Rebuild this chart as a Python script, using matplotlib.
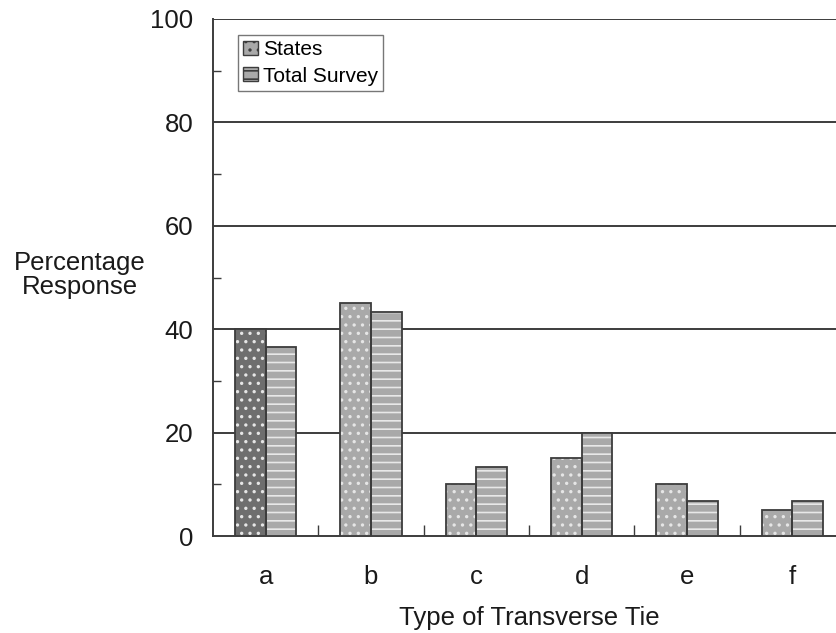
import matplotlib
matplotlib.use("Agg")
import matplotlib.pyplot as plt
from matplotlib.patches import Patch
import numpy as np

categories = ["a", "b", "c", "d", "e", "f"]
states = [40, 45, 10, 15, 10, 5]
total_survey = [36.6, 43.3, 13.3, 20, 6.7, 6.7]
yticks = [0, 20, 40, 60, 80, 100]

plt.rcParams['font.family'] = ['Liberation Sans', 'DejaVu Sans']
plt.rcParams['hatch.linewidth'] = 1.2

W, H = 837, 633
fig = plt.figure(figsize=(W / 100, H / 100), dpi=100)
left, right, top, bottom = 213, 845, 19, 536
ax = fig.add_axes([left / W, 1 - bottom / H, (right - left) / W, (bottom - top) / H])

x = np.arange(len(categories))
bw = 0.29
edge = "#3c3c3c"
light = "#a9a9a9"
dark = "#6e6e6e"
txt = "#1a1a1a"
state_colors = [dark] + [light] * (len(categories) - 1)

# fills with white hatches
ax.bar(x - bw / 2, states, bw, color=state_colors, edgecolor="#e6e6e6", hatch="..", linewidth=0, zorder=3)
ax.bar(x + bw / 2, total_survey, bw, color=light, edgecolor="#e8e8e8", hatch="--", linewidth=0, zorder=3)
# outlines
ax.bar(x - bw / 2, states, bw, fill=False, edgecolor=edge, linewidth=1.3, zorder=4)
ax.bar(x + bw / 2, total_survey, bw, fill=False, edgecolor=edge, linewidth=1.3, zorder=4)

ax.set_xlim(-0.5, 5.5)
ax.set_ylim(0, 100)
ax.set_yticks(yticks)
ax.set_yticks([10, 30, 50, 70, 90], minor=True)
ax.tick_params(axis='y', which='major', length=0, labelsize=18.5, pad=14, colors=txt)
ax.tick_params(axis='y', which='minor', direction='in', length=6, width=1, color=edge)
ax.set_xticks(x)
ax.set_xticklabels(categories)
ax.tick_params(axis='x', which='major', length=0, labelsize=18.5, pad=21, colors=txt)
ax.set_xticks(np.arange(len(categories) - 1) + 0.5, minor=True)
ax.tick_params(axis='x', which='minor', direction='in', length=8, width=1, color=edge)

for yv in yticks[1:]:
    ax.axhline(yv, color=edge, linewidth=1.4, zorder=1)

for s in ["top", "right"]:
    ax.spines[s].set_visible(False)
for s in ["left", "bottom"]:
    ax.spines[s].set_color(edge)
    ax.spines[s].set_linewidth(1.4)

ax.set_xlabel("Type of Transverse Tie", fontsize=18.5, labelpad=12, color=txt)
fig.text(80 / W, 1 - 275 / H, "Percentage\nResponse", fontsize=18.5, ha="center", va="center",
         color=txt, linespacing=1.05)

handles = [Patch(facecolor=light, edgecolor=edge, hatch="..", label="States"),
           Patch(facecolor=light, edgecolor=edge, hatch="--", label="Total Survey")]
leg = ax.legend(handles=handles, loc="upper left",
                bbox_to_anchor=((238 - left) / (right - left), 1 - (35 - top) / (bottom - top)),
                fontsize=15, frameon=True, fancybox=False, handlelength=0.7, handleheight=0.65,
                handletextpad=0.25, borderpad=0.25, labelspacing=0.35, borderaxespad=0)
leg.get_frame().set_edgecolor("#555555")
leg.get_frame().set_linewidth(1.0)

fig.savefig("out.png", dpi=100)
